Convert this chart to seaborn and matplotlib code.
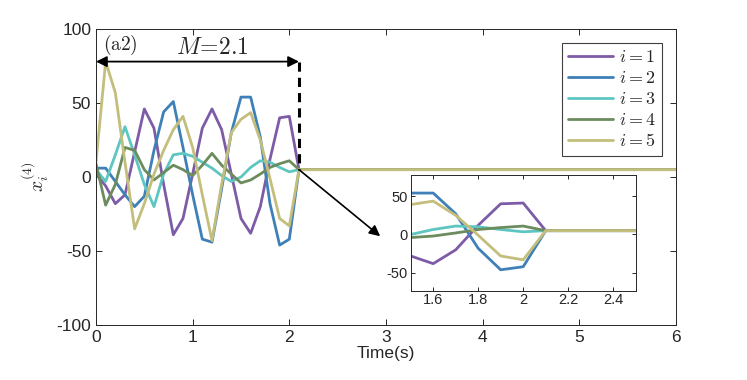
import matplotlib
matplotlib.use("Agg")
import matplotlib.pyplot as plt
import numpy as np
import pandas as pd
import seaborn as sns

# sampled response, step 0.1 s up to M, then held at the settled value
time = [0.0, 0.1, 0.2, 0.3, 0.4, 0.5, 0.6, 0.7, 0.8, 0.9, 1.0,
        1.1, 1.2, 1.3, 1.4, 1.5, 1.6, 1.7, 1.8, 1.9, 2.0, 2.1]
t_end = 6.0
settled = 5.0
M = 2.1

x1 = [2, -6, -18, -12, 17, 46, 33, -5, -39, -28, 2,
      33, 46, 32, 2, -28, -38, -20, 12, 40, 41, 5]
x2 = [6, 6, -3, -12, -20, -13, 18, 44, 51, 20, -12,
      -42, -44, -8, 30, 54, 54, 27, -18, -46, -42, 5]
x3 = [5, -3, 15, 34, 15, -5, -20, 2, 15, 16, 14,
      10, 6, 1, -3, 0, 6.5, 11, 10, 6.5, 3.5, 5]
x4 = [9, -19, -5, 20, 18, 5, -2, 3, 8, 5, 1,
      8, 16, 8, 2, -4, -2, 2, 6.5, 9, 11, 5]
x5 = [10, 78, 57, 10, -35, -18, 2, 18, 32, 41, 20,
      -12, -43, -5, 30, 39, 43.5, 25, -1, -28, -33, 5]

series = {"$i=1$": x1, "$i=2$": x2, "$i=3$": x3, "$i=4$": x4, "$i=5$": x5}
colors = ["#7D5BA6", "#3F80B8", "#5EC6C1", "#6C8C5E", "#C4BE7C"]

rows = []
for name, vals in series.items():
    for t, v in zip(time + [t_end], vals + [settled]):
        rows.append({"t": t, "x": v, "agent": name})
df = pd.DataFrame(rows)

sns.set_theme(style="ticks")
plt.rcParams["font.family"] = ["Liberation Sans", "DejaVu Sans"]
plt.rcParams["mathtext.fontset"] = "cm"
plt.rcParams["axes.unicode_minus"] = False
plt.rcParams["axes.edgecolor"] = "#262626"
plt.rcParams["xtick.color"] = "#262626"
plt.rcParams["ytick.color"] = "#262626"

fig = plt.figure(figsize=(7.47, 3.80), dpi=100)
ax = fig.add_axes([0.1285, 0.1447, 0.7764, 0.7789])

sns.lineplot(data=df, x="t", y="x", hue="agent", palette=colors,
             linewidth=2.0, ax=ax, estimator=None, sort=False)
ax.set_xlim(0, 6)
ax.set_ylim(-100, 100)
ax.set_xticks(range(0, 7))
ax.set_yticks([-100, -50, 0, 50, 100])
ax.tick_params(direction="in", top=True, right=True, labelsize=12.5,
               length=4, width=0.7)
for s in ax.spines.values():
    s.set_linewidth(0.7)
ax.set_xlabel("Time(s)", fontsize=12.5, labelpad=1)
ax.set_ylabel("$x_i^{(4)}$", fontsize=14, labelpad=4)

leg = ax.legend(loc="upper right", bbox_to_anchor=(0.976, 0.953),
                borderaxespad=0, fontsize=13, handlelength=2.5,
                handletextpad=0.3, labelspacing=0.22, borderpad=0.35,
                fancybox=False, framealpha=1, edgecolor="#404040")
leg.get_frame().set_linewidth(0.8)
for h in leg.get_lines():
    h.set_linewidth(2.0)

# span annotation
ax.annotate("", xy=(0, 78), xytext=(M, 78),
            arrowprops=dict(arrowstyle="<|-|>", color="black", lw=1.3,
                            mutation_scale=16, shrinkA=0, shrinkB=0))
ax.plot([M, M], [78, settled], color="black", linestyle=(0, (3, 2)), lw=2.2)
ax.text(M / 2 + 0.15, 79.5, r"$M\!=\!2.1$", fontsize=17, ha="center", va="bottom")
ax.text(0.07, 89, r"$\mathrm{(a2)}$", fontsize=14, ha="left", va="center")
ax.annotate("", xy=(2.94, -40), xytext=(M, settled),
            arrowprops=dict(arrowstyle="-|>", color="black", lw=1.2,
                            mutation_scale=16, shrinkA=0, shrinkB=0))

# zoomed inset
ins = fig.add_axes([0.5498, 0.2355, 0.3012, 0.3039])
sns.lineplot(data=df, x="t", y="x", hue="agent", palette=colors,
             linewidth=2.0, ax=ins, estimator=None, sort=False, legend=False)
ins.set_xlim(1.5, 2.5)
ins.set_ylim(-73, 77.5)
ins.set_xticks([1.6, 1.8, 2.0, 2.2, 2.4])
ins.set_xticklabels(["1.6", "1.8", "2", "2.2", "2.4"])
ins.set_yticks([-50, 0, 50])
ins.tick_params(direction="in", top=True, right=True, labelsize=10.5,
                length=3, width=0.7, pad=2)
for s in ins.spines.values():
    s.set_linewidth(0.7)
ins.set_xlabel("")
ins.set_ylabel("")

fig.savefig("out.png", dpi=100)
